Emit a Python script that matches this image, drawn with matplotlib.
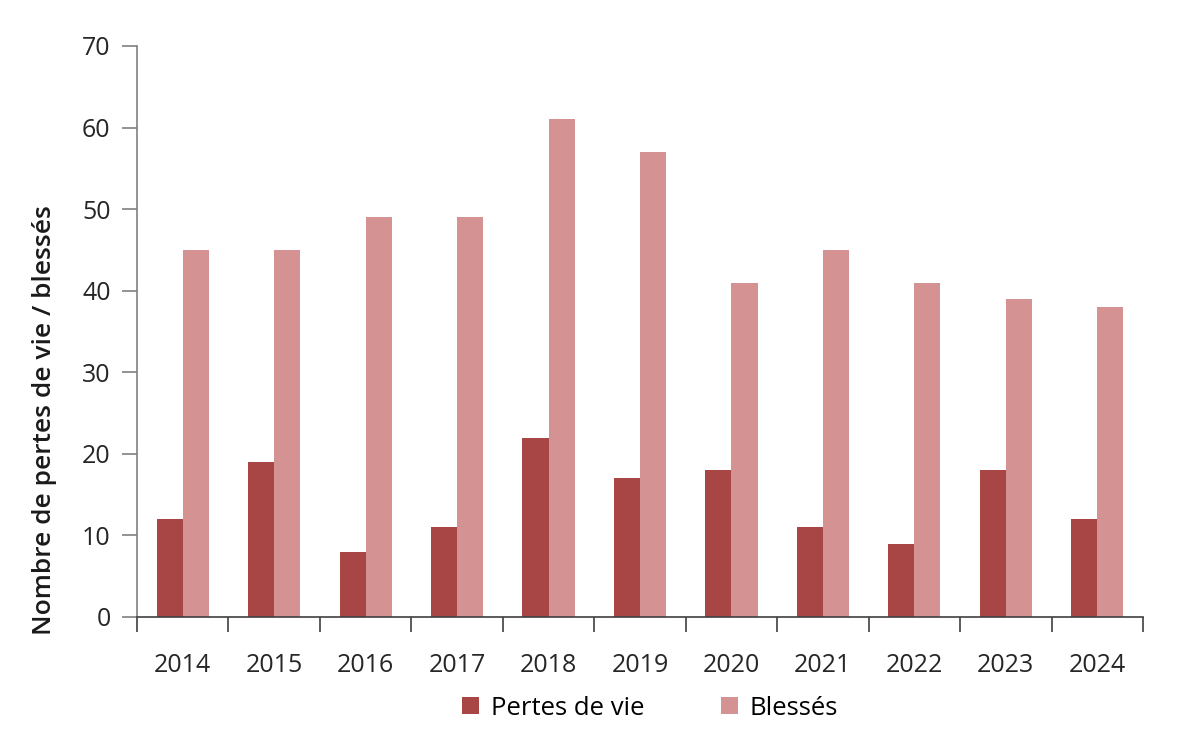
import numpy as np
import matplotlib.pyplot as plt

plt.rcParams['font.family'] = ['Open Sans', 'DejaVu Sans']

# Données
annees = ['2014', '2015', '2016', '2017', '2018', '2019', '2020', '2021', '2022', '2023', '2024']
pertes_de_vie = [12, 19, 8, 11, 22, 17, 18, 11, 9, 18, 12]
blesses = [45, 45, 49, 49, 61, 57, 41, 45, 41, 39, 38]

couleur_pertes = '#A84545'
couleur_blesses = '#D49292'

fig = plt.figure(figsize=(12, 7.51), dpi=100)
ax = fig.add_axes([137 / 1200, 1 - 617 / 751, (1143 - 137) / 1200, (617 - 46) / 751])

x = np.arange(len(annees))
largeur = 0.285
ax.bar(x - largeur / 2, pertes_de_vie, largeur, color=couleur_pertes, label='Pertes de vie')
ax.bar(x + largeur / 2, blesses, largeur, color=couleur_blesses, label='Blessés')

ax.set_xlim(-0.5, len(annees) - 0.5)
ax.set_ylim(0, 70)
ax.set_yticks(range(0, 71, 10))

# Graduations entre les catégories
ax.set_xticks(np.arange(-0.5, len(annees), 1))
ax.set_xticklabels([])
ax.set_xticks(x, minor=True)
ax.set_xticklabels(annees, minor=True)
ax.tick_params(axis='x', which='major', length=11, width=1.2, color='#404040', direction='out')
ax.tick_params(axis='x', which='minor', length=0, labelsize=18, pad=26, labelcolor='#262626')
ax.tick_params(axis='y', length=11, width=1.2, color='#808080', labelsize=18, pad=8, labelcolor='#262626')

for s in ['top', 'right']:
    ax.spines[s].set_visible(False)
ax.spines['left'].set_color('#808080')
ax.spines['left'].set_linewidth(1.2)
ax.spines['bottom'].set_color('#404040')
ax.spines['bottom'].set_linewidth(1.2)

ax.set_ylabel('Nombre de pertes de vie / blessés', fontsize=19, fontweight='semibold',
              color='#1a1a1a')
ax.yaxis.set_label_coords(-0.080, 0.345)

ax.legend(loc='upper center', bbox_to_anchor=(0.51, -0.097), ncol=2, frameon=False,
          fontsize=18.5, handlelength=0.65, handleheight=0.65, columnspacing=3, handletextpad=0.45)

plt.savefig('out.png', dpi=100)
